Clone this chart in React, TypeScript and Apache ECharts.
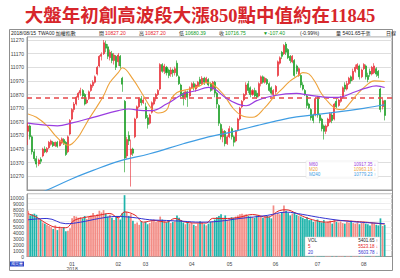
import React, { useEffect, useRef } from "react";
import * as echarts from "echarts";

// ---- trading days (Dec 2017 - Aug 15 2018) ----
const monthDays: [string, number[]][] = [
  ["2017/12", [1, 4, 5, 6, 7, 8, 11, 12, 13, 14, 15, 18, 19, 20, 21, 22, 25, 26, 27, 28, 29]],
  ["2018/01", [2, 3, 4, 5, 8, 9, 10, 11, 12, 15, 16, 17, 18, 19, 22, 23, 24, 25, 26, 29, 30, 31]],
  ["2018/02", [1, 2, 5, 6, 7, 8, 9, 12, 21, 22, 23, 26, 27]],
  ["2018/03", [1, 2, 5, 6, 7, 8, 9, 12, 13, 14, 15, 16, 19, 20, 21, 22, 23, 26, 27, 28, 29, 30]],
  ["2018/04", [2, 3, 9, 10, 11, 12, 13, 16, 17, 18, 19, 20, 23, 24, 25, 26, 27, 30]],
  ["2018/05", [2, 3, 4, 7, 8, 9, 10, 11, 14, 15, 16, 17, 18, 21, 22, 23, 24, 25, 28, 29, 30, 31]],
  ["2018/06", [1, 4, 5, 6, 7, 8, 11, 12, 13, 14, 15, 19, 20, 21, 22, 25, 26, 27, 28, 29]],
  ["2018/07", [2, 3, 4, 5, 6, 9, 10, 11, 12, 13, 16, 17, 18, 19, 20, 23, 24, 25, 26, 27, 30, 31]],
  ["2018/08", [1, 2, 3, 6, 7, 8, 9, 10, 13, 14, 15]],
];
const dates: string[] = monthDays.flatMap(([m, ds]) => ds.map((d) => `${m}/${String(d).padStart(2, "0")}`));
const padSlots = ["pad1", "pad2", "pad3"];

// ---- daily candles [open, close, low, high] ----
const ohlc: number[][] = [
  // Dec 2017
  [10600, 10640, 10500, 10665], [10640, 10560, 10540, 10650], [10560, 10450, 10430, 10570], [10450, 10400, 10380, 10470],
  [10400, 10360, 10335, 10420], [10360, 10390, 10345, 10400], [10395, 10380, 10360, 10410], [10420, 10470, 10410, 10480],
  [10470, 10450, 10440, 10490], [10450, 10475, 10440, 10485], [10480, 10520, 10470, 10530], [10505, 10530, 10495, 10540],
  [10520, 10495, 10485, 10530], [10495, 10520, 10485, 10525], [10520, 10490, 10480, 10530], [10495, 10525, 10490, 10535],
  [10515, 10545, 10505, 10555], [10540, 10510, 10500, 10550], [10520, 10430, 10420, 10530], [10450, 10560, 10440, 10570],
  [10580, 10680, 10570, 10690],
  // Jan 2018
  [10690, 10760, 10680, 10770], [10760, 10800, 10740, 10815], [10800, 10850, 10790, 10860], [10850, 10880, 10830, 10890],
  [10880, 10900, 10860, 10920], [10900, 10860, 10840, 10910], [10870, 10800, 10790, 10880], [10810, 10830, 10800, 10850],
  [10840, 10890, 10830, 10900], [10900, 10940, 10890, 10950], [10935, 10960, 10920, 10975], [10960, 11000, 10950, 11010],
  [11020, 11070, 11010, 11080], [11080, 11150, 11070, 11160], [11150, 11165, 11120, 11180], [11170, 11250, 11160, 11270],
  [11240, 11210, 11180, 11265], [11220, 11150, 11130, 11240], [11140, 11180, 11120, 11200], [11170, 11120, 11100, 11190],
  [11120, 11160, 11090, 11175], [11150, 11070, 11050, 11160],
  // Feb
  [11110, 11160, 11080, 11175], [11150, 11080, 11060, 11160], [10990, 10946, 10890, 11000], [10820, 10404, 10300, 10830],
  [10420, 10540, 10400, 10560], [10570, 10530, 10500, 10600], [10430, 10470, 10195, 10540], [10470, 10440, 10420, 10480],
  [10560, 10690, 10550, 10700], [10700, 10780, 10690, 10790], [10780, 10840, 10770, 10850], [10840, 10810, 10790, 10860],
  [10810, 10830, 10800, 10850],
  // Mar
  [10780, 10700, 10690, 10810], [10700, 10650, 10620, 10720], [10660, 10720, 10650, 10730], [10740, 10810, 10730, 10820],
  [10800, 10840, 10790, 10850], [10840, 10870, 10820, 10880], [10870, 10900, 10860, 10910], [10910, 11090, 10900, 11100],
  [11090, 11040, 11030, 11100], [11040, 11080, 11020, 11095], [11070, 11030, 11010, 11080], [11050, 11010, 10990, 11060],
  [11020, 11050, 11000, 11070], [11050, 11030, 11000, 11060], [11030, 11060, 11010, 11075], [11100, 11010, 11000, 11120],
  [11000, 10950, 10940, 11010], [10940, 10860, 10850, 10950], [10880, 10850, 10790, 10890], [10850, 10890, 10830, 10900],
  [10890, 10850, 10780, 10900], [10860, 10920, 10850, 10930],
  // Apr
  [10920, 10950, 10910, 10960], [10950, 10920, 10900, 10965], [10910, 10940, 10890, 10950], [10930, 10960, 10920, 10970],
  [10980, 10950, 10930, 11000], [10950, 10990, 10940, 11005], [10990, 10960, 10940, 11000], [10960, 10990, 10950, 11000],
  [10980, 10940, 10930, 10990], [10950, 10900, 10890, 10960], [10910, 10960, 10900, 10970], [10960, 10880, 10850, 10970],
  [10880, 10800, 10770, 10890], [10790, 10660, 10640, 10800], [10650, 10560, 10540, 10660], [10560, 10600, 10520, 10620],
  [10600, 10510, 10490, 10610], [10510, 10560, 10500, 10570],
  // May
  [10560, 10620, 10550, 10640], [10620, 10560, 10540, 10630], [10560, 10520, 10490, 10570], [10530, 10600, 10520, 10610],
  [10610, 10690, 10600, 10700], [10690, 10770, 10680, 10780], [10780, 10820, 10770, 10830], [10830, 10870, 10820, 10880],
  [10870, 10940, 10860, 10960], [10950, 10900, 10880, 10970], [10920, 10870, 10850, 10930], [10870, 10900, 10860, 10910],
  [10900, 10860, 10850, 10920], [10880, 10850, 10840, 10900], [10860, 10950, 10850, 10960], [10950, 11000, 10930, 11010],
  [11000, 10960, 10950, 11010], [10960, 10990, 10950, 11000], [10980, 10950, 10940, 10990], [10950, 10900, 10890, 10960],
  [10920, 10880, 10870, 10930], [10870, 10900, 10850, 10910],
  // Jun
  [10890, 10930, 10870, 10940], [11010, 11110, 11000, 11120], [11100, 11140, 11090, 11150], [11180, 11150, 11130, 11190],
  [11170, 11230, 11160, 11240], [11240, 11180, 11160, 11255], [11200, 11140, 11130, 11210], [11150, 11120, 11100, 11160],
  [11110, 11150, 11100, 11160], [11120, 11010, 11000, 11130], [11080, 11040, 11020, 11090], [11010, 11060, 11000, 11070],
  [11010, 10940, 10920, 11020], [10940, 10910, 10900, 10960], [10900, 10870, 10860, 10910], [10860, 10790, 10770, 10870],
  [10800, 10770, 10760, 10810], [10760, 10700, 10680, 10770], [10720, 10680, 10660, 10730], [10720, 10840, 10710, 10850],
  // Jul
  [10850, 10720, 10700, 10860], [10720, 10680, 10660, 10730], [10690, 10620, 10600, 10700], [10640, 10600, 10540, 10650],
  [10600, 10640, 10580, 10650], [10640, 10690, 10630, 10700], [10670, 10730, 10660, 10740], [10720, 10680, 10660, 10740],
  [10690, 10800, 10680, 10810], [10820, 10780, 10770, 10840], [10790, 10830, 10780, 10840], [10820, 10850, 10810, 10860],
  [10850, 10920, 10840, 10930], [10940, 10910, 10890, 10960], [10910, 10950, 10900, 10970], [10950, 10990, 10940, 11000],
  [11000, 10970, 10950, 11010], [10980, 11040, 10970, 11060], [11040, 11070, 11030, 11090], [11060, 11090, 11050, 11100],
  [11080, 11000, 10980, 11090], [11000, 11050, 10990, 11060],
  // Aug
  [11060, 11090, 11050, 11100], [11080, 11000, 10980, 11090], [11010, 10980, 10960, 11030], [11040, 11020, 11000, 11060],
  [11020, 11070, 11010, 11080], [11030, 11080, 11020, 11100], [11060, 11020, 11000, 11070], [11040, 11010, 10990, 11050],
  [10910, 10760, 10740, 10920], [10780, 10824, 10760, 10840], [10827.2, 10716.75, 10680.39, 10827.2],
];

// ---- daily volume ----
const volumes: number[] = [
  7800, 7000, 7200, 7300, 7100, 6500, 6200, 5800, 5600, 5400, 5200, 5000, 4700, 5300, 4500, 5100, 4800, 5000, 4300, 4400, 4800,
  6500, 6900, 6800, 6600, 6700, 6500, 6900, 6400, 6800, 7000, 7400, 6900, 7200, 7800, 7500, 7900, 7300, 6800, 7100, 6600, 6200, 6900,
  6600, 6300, 7400, 10450, 7600, 6900, 7200, 6100, 5600, 5800, 5400, 6000, 5700,
  5900, 5500, 5700, 6100, 6300, 5900, 6200, 6800, 6300, 6000, 5800, 6100, 5700, 5900, 6000, 7000, 6600, 6200, 5800, 5500, 5900, 5600,
  5700, 5400, 5200, 5600, 6000, 5800, 5500, 5300, 5600, 5900, 6000, 6300, 6700, 6900, 7200, 6600, 7000, 6200,
  6500, 6700, 6600, 6800, 7000, 7200, 7300, 7100, 7200, 6900, 6800, 6700, 6600, 7000, 7100, 6900, 6600, 6800, 6900, 6700, 6500, 8700,
  7200, 7400, 7200, 7600, 8700, 7800, 7400, 7000, 7300, 7500, 7100, 6900, 6800, 6600, 6400, 6700, 6200, 6300, 5900, 6100,
  6300, 6000, 5800, 6200, 5700, 5900, 6100, 5600, 6300, 5900, 5800, 6000, 5700, 5600, 5900, 5800, 6100, 5700, 5600, 5800, 5500, 5700,
  5900, 5600, 5500, 5300, 5700, 5600, 5400, 5300, 6500, 5200, 5401,
];

// ---- moving averages: [day index, value] ----
const ma20: number[][] = [
  [0, 10728], [4, 10703], [9, 10642], [13, 10569], [16, 10525], [19, 10498], [21, 10509], [24, 10560], [26, 10610],
  [29, 10690], [33, 10785], [36, 10861], [39, 10958], [43, 11031], [45, 11066], [50, 10983], [55, 10861], [59, 10764],
  [62, 10735], [66, 10755], [68, 10830], [71, 10885], [77, 10910], [82, 10934], [85, 10958], [88, 10946], [93, 10874],
  [98, 10764], [102, 10715], [107, 10703], [113, 10776], [117, 10849], [121, 10910], [125, 10970], [129, 11012],
  [131, 11031], [134, 11020], [137, 10958], [140, 10874], [144, 10800], [147, 10764], [150, 10759], [153, 10800],
  [157, 10874], [161, 10934], [165, 10970], [170, 10966],
];
const ma60: number[][] = [
  [0, 10660], [9, 10645], [14, 10640], [21, 10662], [31, 10703], [43, 10752], [48, 10764], [55, 10752], [59, 10752],
  [66, 10800], [74, 10874], [80, 10898], [86, 10922], [89, 10910], [94, 10849], [100, 10800], [104, 10788], [109, 10825],
  [117, 10861], [128, 10878], [134, 10866], [144, 10849], [148, 10849], [155, 10885], [161, 10917], [166, 10934], [170, 10922],
];
const ma240: number[][] = [
  [0, 10120], [8, 10163], [21, 10253], [31, 10314], [43, 10380], [58, 10436], [74, 10509], [86, 10560], [93, 10582],
  [101, 10611], [109, 10642], [117, 10671], [128, 10706], [144, 10735], [160, 10769], [170, 10795],
];
const volMa5: number[][] = [
  [0, 7300], [4, 6700], [9, 5590], [13, 5000], [18, 4900], [22, 6140], [27, 6650], [34, 7050], [39, 7330], [43, 6600],
  [46, 7600], [51, 7050], [55, 5850], [60, 6140], [66, 5850], [70, 6480], [75, 5850], [82, 5700], [85, 5700], [88, 6500],
  [95, 6480], [101, 6700], [107, 7160], [114, 6700], [120, 7840], [123, 7960], [128, 7330], [132, 6700], [137, 6140],
  [142, 5850], [149, 6140], [155, 6000], [161, 5850], [168, 5590], [170, 5523],
];
const volMa20: number[][] = [
  [0, 6260], [9, 6480], [18, 5590], [25, 5850], [34, 6480], [42, 6820], [50, 6650], [58, 6260], [66, 6140], [74, 6000],
  [82, 5850], [91, 6000], [101, 6480], [114, 7000], [123, 7560], [131, 7160], [139, 6650], [149, 6140], [158, 5850],
  [170, 5604],
];

const midLine = 10845;
const priceTicks = { min: 10170, max: 11292, step: 100 };
const volTicks = { min: 0, max: 10650, step: 1000 };

const UP = "#e8242b";
const DOWN = "#0f9a1a";
const VUP = "#f38b84";
const VDOWN = "#1eb4ab";
const C_MA20 = "#eea23a";
const C_MA60 = "#9a3de0";
const C_MA240 = "#3f9de3";
const FONT = "'Liberation Sans', 'Noto Sans CJK TC', sans-serif";

const categories = [...dates, ...padSlots];
const isMonthStart = (i: number) =>
  i > 0 && i < dates.length && dates[i].slice(0, 7) !== dates[i - 1].slice(0, 7);

function txt(x: number, y: number, text: string, fill: string, opts: any = {}) {
  return {
    type: "text",
    x,
    y,
    style: {
      text,
      fill,
      fontSize: opts.fontSize ?? 5,
      fontFamily: opts.fontFamily ?? FONT,
      fontWeight: opts.fontWeight ?? "normal",
      align: opts.align ?? "left",
      verticalAlign: "middle",
    },
    z: 100,
  };
}

function buildOption(): any {
  const yLabel = {
    fontSize: 5,
    color: "#444",
    margin: 3,
    fontFamily: FONT,
    formatter: (v: number) => String(Math.round(v)),
  };
  return {
    animation: false,
    backgroundColor: "#fff",
    grid: [
      { left: 27, right: 8, top: 37, height: 153, show: true, borderColor: "#9a9a9a", borderWidth: 1 },
      { left: 27, right: 8, top: 194, height: 62.5, show: true, borderColor: "#9a9a9a", borderWidth: 1 },
    ],
    xAxis: [
      {
        type: "category",
        gridIndex: 0,
        data: categories,
        boundaryGap: true,
        axisLine: { lineStyle: { color: "#999" } },
        axisTick: { interval: (i: number) => isMonthStart(i), length: 3, lineStyle: { color: "#888" } },
        axisLabel: { show: false },
        splitLine: { show: false },
      },
      {
        type: "category",
        gridIndex: 1,
        data: categories,
        boundaryGap: true,
        axisLine: { lineStyle: { color: "#999" } },
        axisTick: { interval: 0, length: 1.5, lineStyle: { color: "#aaa", width: 0.6 } },
        axisLabel: {
          interval: (i: number) => isMonthStart(i),
          fontSize: 5,
          lineHeight: 5,
          color: "#444",
          margin: 5,
          fontFamily: FONT,
          formatter: (v: string) => {
            const m = v.slice(5, 7);
            return m === "01" ? `01\n${v.slice(0, 4)}` : m;
          },
        },
        splitLine: { show: false },
      },
    ],
    yAxis: [
      {
        type: "value",
        gridIndex: 0,
        min: priceTicks.min,
        max: priceTicks.max,
        interval: priceTicks.step,
        axisLine: { show: true, lineStyle: { color: "#999" } },
        axisTick: { show: false },
        axisLabel: { ...yLabel, showMinLabel: false, showMaxLabel: false },
        splitLine: { lineStyle: { color: "#dedede", width: 1 } },
      },
      {
        type: "value",
        gridIndex: 1,
        min: volTicks.min,
        max: volTicks.max,
        interval: volTicks.step,
        axisLine: { show: true, lineStyle: { color: "#999" } },
        axisTick: { show: false },
        axisLabel: { ...yLabel, showMaxLabel: false },
        splitLine: { lineStyle: { color: "#efefef", width: 1 } },
      },
    ],
    series: [
      {
        type: "candlestick",
        xAxisIndex: 0,
        yAxisIndex: 0,
        data: ohlc,
        barWidth: "72%",
        large: false,
        itemStyle: { color: UP, color0: DOWN, borderColor: UP, borderColor0: DOWN, borderWidth: 0.6 },
        markLine: {
          symbol: "none",
          silent: true,
          label: { show: false },
          lineStyle: { color: "#e6474a", type: [5, 4], width: 1.5 },
          data: [{ yAxis: midLine }],
          z: 4,
        },
        z: 2,
      },
      {
        type: "line",
        xAxisIndex: 0,
        yAxisIndex: 0,
        data: ma20,
        smooth: 0.4,
        showSymbol: false,
        lineStyle: { color: C_MA20, width: 1.1 },
        z: 5,
      },
      {
        type: "line",
        xAxisIndex: 0,
        yAxisIndex: 0,
        data: ma60,
        smooth: 0.4,
        showSymbol: false,
        lineStyle: { color: C_MA60, width: 1.2 },
        z: 5,
      },
      {
        type: "line",
        xAxisIndex: 0,
        yAxisIndex: 0,
        data: ma240,
        smooth: 0.4,
        showSymbol: false,
        clip: true,
        lineStyle: { color: C_MA240, width: 1.2 },
        z: 5,
      },
      {
        type: "bar",
        xAxisIndex: 1,
        yAxisIndex: 1,
        barWidth: "82%",
        data: volumes.map((v, i) => ({
          value: v,
          itemStyle: { color: ohlc[i][1] >= ohlc[i][0] ? VUP : VDOWN },
        })),
        z: 2,
      },
      {
        type: "line",
        xAxisIndex: 1,
        yAxisIndex: 1,
        data: volMa5,
        smooth: 0.4,
        showSymbol: false,
        lineStyle: { color: "#e42222", width: 1 },
        z: 5,
      },
      {
        type: "line",
        xAxisIndex: 1,
        yAxisIndex: 1,
        data: volMa20,
        smooth: 0.4,
        showSymbol: false,
        lineStyle: { color: "#3232d2", width: 1 },
        z: 5,
      },
    ],
    graphic: [
      {
        type: "rect",
        shape: { x: 9.5, y: 29.5, width: 383, height: 241 },
        style: { fill: "none", stroke: "#8f8f8f", lineWidth: 1 },
        z: 90,
        silent: true,
      },
      txt(200, 15.5, "大盤年初創高波段大漲850點中值約在11845", "#d7262b", {
        fontSize: 18.5,
        fontWeight: "bold",
        align: "center",
        fontFamily: "'Liberation Serif', 'DejaVu Serif', 'Noto Sans CJK TC', serif",
      }),
      txt(11, 33, "2018/08/15", "#222"),
      txt(38, 33, "TWA00 加權指數", "#222"),
      txt(99, 33, "開", "#222"),
      txt(105, 33, "10827.20", UP),
      txt(139, 33, "高", "#222"),
      txt(145, 33, "10827.20", UP),
      txt(179, 33, "低", "#222"),
      txt(185, 33, "10680.39", DOWN),
      txt(219, 33, "收", "#222"),
      txt(225, 33, "10716.75", DOWN),
      txt(263, 33, "▼-107.40", DOWN),
      txt(300, 33, "(-0.99%)", "#222"),
      txt(336, 33, "量 5401.65千張", "#222"),
      txt(386, 33, "日線", "#222"),
      {
        type: "rect",
        shape: { x: 306, y: 161, width: 72, height: 17 },
        style: { fill: "rgba(255,255,255,0.9)", stroke: "#e2e2e2", lineWidth: 0.5 },
        z: 95,
      },
      txt(309, 164.5, "M60", C_MA60, { fontSize: 4.5 }),
      txt(309, 169.5, "M20", C_MA20, { fontSize: 4.5 }),
      txt(309, 174.5, "M240", C_MA240, { fontSize: 4.5 }),
      txt(376, 164.5, "10917.35 ↓", C_MA60, { fontSize: 4.5, align: "right" }),
      txt(376, 169.5, "10963.19 ↓", C_MA20, { fontSize: 4.5, align: "right" }),
      txt(376, 174.5, "10779.23 ↑", C_MA240, { fontSize: 4.5, align: "right" }),
      {
        type: "rect",
        shape: { x: 305, y: 237, width: 75, height: 19 },
        style: { fill: "#fff", stroke: "#cfcfcf", lineWidth: 0.5 },
        z: 95,
      },
      txt(308, 240.5, "VOL", "#222", { fontSize: 4.5 }),
      txt(308, 246.5, "5", "#e42222", { fontSize: 4.5 }),
      txt(308, 252.5, "20", "#3232d2", { fontSize: 4.5 }),
      txt(378, 240.5, "5401.65 ↑", "#222", { fontSize: 4.5, align: "right" }),
      txt(378, 246.5, "5523.18 ↓", "#e42222", { fontSize: 4.5, align: "right" }),
      txt(378, 252.5, "5603.78 ↓", "#3232d2", { fontSize: 4.5, align: "right" }),
      {
        type: "rect",
        shape: { x: 10, y: 261.5, width: 14, height: 5 },
        style: { fill: "#2a46c8" },
        z: 95,
      },
      txt(17, 264, "成交量", "#fff", { fontSize: 3.8, align: "center" }),
    ],
  };
}

export default function App() {
  const ref = useRef<HTMLDivElement>(null);
  useEffect(() => {
    if (!ref.current) return;
    const chart = echarts.init(ref.current, null, { renderer: "svg" });
    chart.setOption(buildOption());
    return () => chart.dispose();
  }, []);
  return (
    <div
      ref={ref}
      style={{ position: "fixed", left: 0, top: 0, width: 400, height: 278, background: "#fff" }}
    />
  );
}
